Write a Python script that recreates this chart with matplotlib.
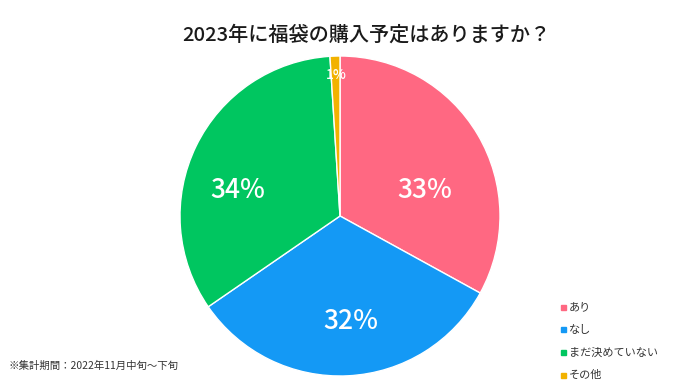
import matplotlib.pyplot as plt
from matplotlib.patches import Rectangle

plt.rcParams['font.family'] = ['Noto Sans CJK JP', 'DejaVu Sans']

labels = ['あり', 'なし', 'まだ決めていない', 'その他']
values = [33.0, 32.4, 33.6, 1.0]
colors = ['#FF6882', '#1499F5', '#00C660', '#F2B200']
title = '2023年に福袋の購入予定はありますか？'
note = '※集計期間：2022年11月中旬～下旬'
# where the percent labels sit, in pie radius units
label_pos = [(0.53, 0.16), (0.07, -0.66), (-0.64, 0.16), (-0.02, 0.88)]
label_size = [19, 19, 19, 10]

fig = plt.figure(figsize=(6.8, 3.82), dpi=100)
ax = fig.add_axes([180 / 680, 6 / 382, 320 / 680, 320 / 382])

wedges, texts, autotexts = ax.pie(
    values, colors=colors, startangle=90, counterclock=False,
    autopct=lambda p: f'{p:.0f}%', pctdistance=0.58,
    wedgeprops=dict(edgecolor='white', linewidth=1.0),
    textprops=dict(color='white', fontsize=19))
for t, pos, fs in zip(autotexts, label_pos, label_size):
    t.set_position(pos)
    t.set_fontsize(fs)
    t.set_fontweight('medium')
ax.set_xlim(-1, 1)
ax.set_ylim(-1, 1)

fig.text(366 / 680, 1 - 35 / 382, title, ha='center', va='center',
         fontsize=14.5, fontweight='medium', color='#1a1a1a')
fig.text(8 / 680, 1 - 366 / 382, note, ha='left', va='center',
         fontsize=7.5, color='#333333')

for i, (lab, col) in enumerate(zip(labels, colors)):
    y = 1 - (307 + i * 22.7) / 382
    fig.patches.append(Rectangle((561 / 680, y - 2.5 / 382), 5 / 680, 5 / 382,
                                 transform=fig.transFigure, color=col))
    fig.text(569 / 680, y, lab, ha='left', va='center', fontsize=8,
             color='#333333')

fig.savefig('out.png', dpi=100, facecolor='white')
